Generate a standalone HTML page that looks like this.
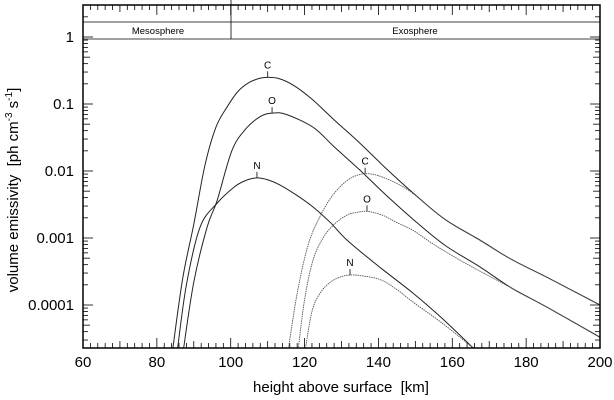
<!DOCTYPE html>
<html><head><meta charset="utf-8"><style>
html,body{margin:0;padding:0;background:#fff;}
svg{display:block;font-family:"Liberation Sans",sans-serif;}
</style></head><body>
<svg id="chart" width="614" height="400" viewBox="0 0 614 400">
<defs><clipPath id="clip"><rect x="83" y="5" width="517" height="343"/></clipPath></defs>
<g id="grid"></g>
<g id="curves" clip-path="url(#clip)"></g>
<g id="labels"></g>
<line x1="83" y1="22" x2="600" y2="22" stroke="#000" stroke-width="0.8"/>
<line x1="83" y1="39" x2="600" y2="39" stroke="#000" stroke-width="0.8"/>
<line x1="231" y1="0" x2="231" y2="39" stroke="#000" stroke-width="0.8"/>
<text x="158" y="34" font-size="9.5" text-anchor="middle">Mesosphere</text>
<text x="415" y="34" font-size="9.5" text-anchor="middle">Exosphere</text>
<rect x="83" y="5" width="517" height="343" fill="none" stroke="#000" stroke-width="1.5"/>
<text x="341" y="392" font-size="15" text-anchor="middle">height above surface&#160; [km]</text>
<text transform="translate(18,190) rotate(-90)" font-size="15" text-anchor="middle">volume emissivity&#160; [ph cm<tspan dy="-6" font-size="10">-3</tspan><tspan dy="6"> s</tspan><tspan dy="-6" font-size="10">-1</tspan><tspan dy="6">]</tspan></text>
</svg>
<script>
const xTicks=[60,80,100,120,140,160,180,200];
const yTicks=[1,0.1,0.01,0.001,0.0001];
const yTickLabels=["1","0.1","0.01","0.001","0.0001"];
const seriesNames=["C","O","N","C","O","N"];
const seriesDotted=[false,false,false,true,true,true];
const cKm=[84.2,87,90,93,96,99,102,105,108,110,113,117,122,128,135,142,149.4,158,167.5,176,185.6,200];
const cVal=[2e-5,2.5e-4,1.6e-3,0.012,0.045,0.09,0.155,0.21,0.243,0.25,0.24,0.19,0.118,0.058,0.026,0.011,0.0047,0.0019,0.00093,0.00048,0.00026,1.0e-4];
const oKm=[87.1,90,93.6,96.3,100.3,104,108,111.2,115,122.3,128,135,142,149.4,158,167.5,176,185.6,200];
const oVal=[2e-5,2.2e-4,1.45e-3,0.0036,0.02,0.042,0.065,0.073,0.07,0.045,0.023,0.0103,0.0044,0.0019,0.00078,0.00037,0.00018,9.3e-5,3.3e-5];
const nKm=[85.5,88,91.7,96.3,101,104,107.1,110,113.3,118,122.3,127,131.5,140,149.4,157,165.6];
const nVal=[2e-5,2e-4,1.45e-3,0.0033,0.0058,0.0072,0.0079,0.0074,0.0062,0.0043,0.0029,0.0017,0.00093,0.00038,0.00015,6.5e-5,2.3e-5];
const cdKm=[115.5,118,121,124.2,127,130,133,136.4,140,145,149.4,158,167.5,176,185.6,200];
const cdVal=[2e-5,1.5e-4,8e-4,0.0021,0.0039,0.0061,0.0081,0.0091,0.0085,0.0065,0.0046,0.0019,0.00092,0.00048,0.00026,1.0e-4];
const odKm=[118.2,120,122.3,125,128,131.5,134,136.9,141,145,149.4,155,162.9,170,185.6,200];
const odVal=[2e-5,1.2e-4,4.7e-4,0.001,0.0016,0.0022,0.0024,0.0025,0.0022,0.0017,0.0013,8e-4,4.4e-4,2.7e-4,9.3e-5,3.3e-5];
const ndKm=[120.1,122,124.2,127,130,132.3,135,140.4,145,149.4,157,165.6];
const ndVal=[2e-5,8e-5,1.5e-4,2.2e-4,2.65e-4,2.8e-4,2.75e-4,2.4e-4,1.7e-4,1.1e-4,5.5e-5,2.3e-5];
const seriesKm=[cKm,oKm,nKm,cdKm,odKm,ndKm];
const seriesVal=[cVal,oVal,nVal,cdVal,odVal,ndVal];

const NS="http://www.w3.org/2000/svg";
const X0=83,X1=600,Y0=5,Y1=348;
function sx(km){return X0+(km-60)/(200-60)*(X1-X0);}
function sy(v){return 37-Math.log10(v)*67;}
function mk(tag,attrs,parent){const e=document.createElementNS(NS,tag);for(const k in attrs)e.setAttribute(k,attrs[k]);parent.appendChild(e);return e;}
const grid=document.getElementById('grid');
for(let k=60;k<=200;k+=2){
  const major=(k%20===0);const len=major?10:(k%10===0?7:5);
  const x=sx(k);
  const t1=mk('line',{x1:x,y1:Y1,x2:x,y2:Y1-len,stroke:'#000','stroke-width':0.8},grid);
  
  
  const t2=mk('line',{x1:x,y1:Y0,x2:x,y2:Y0+len,stroke:'#000','stroke-width':0.8},grid);
  
  
}
xTicks.forEach(k=>{
  const t=mk('text',{x:sx(k),y:367,'font-size':15,'text-anchor':'middle'},grid);
  t.textContent=String(k);
  
  
});
for(let d=-5;d<=0;d++){
  for(let m=1;m<=9;m++){
    const v=m*Math.pow(10,d);const y=sy(v);
    if(y<Y0||y>Y1)continue;
    const len=m===1?10:(m===5?7:5);
    const a=mk('line',{x1:X0,y1:y,x2:X0+len,y2:y,stroke:'#000','stroke-width':0.8},grid);
    
    
    const b=mk('line',{x1:X1,y1:y,x2:X1-len,y2:y,stroke:'#000','stroke-width':0.8},grid);
    
    
  }
}
yTicks.forEach((v,i)=>{
  const t=mk('text',{x:74,y:sy(v)+5,'font-size':15,'text-anchor':'end'},grid);
  t.textContent=yTickLabels[i];
  
  
});
function pathFor(km,val){
  const p=km.map((k,i)=>[sx(k),sy(val[i])]);
  const s=[p[0][0]-(p[1][0]-p[0][0])*0.3,p[0][1]-(p[1][1]-p[0][1])*0.3];
  let d='M'+s[0].toFixed(2)+','+s[1].toFixed(2)+' L'+p[0][0].toFixed(2)+','+p[0][1].toFixed(2);
  for(let i=0;i<p.length-1;i++){
    const a=p[Math.max(0,i-1)],b=p[i],c=p[i+1],e=p[Math.min(p.length-1,i+2)];
    const c1=[b[0]+(c[0]-a[0])/6,b[1]+(c[1]-a[1])/6];
    const c2=[c[0]-(e[0]-b[0])/6,c[1]-(e[1]-b[1])/6];
    d+=' C'+c1[0].toFixed(2)+','+c1[1].toFixed(2)+' '+c2[0].toFixed(2)+','+c2[1].toFixed(2)+' '+c[0].toFixed(2)+','+c[1].toFixed(2);
  }
  return d;
}
const curves=document.getElementById('curves');
const labels=document.getElementById('labels');
seriesKm.forEach((km,i)=>{
  const val=seriesVal[i];
  const p=mk('path',{d:pathFor(km,val),fill:'none',stroke:seriesDotted[i]?'#555':'#222','stroke-width':seriesDotted[i]?0.9:1,'stroke-dasharray':seriesDotted[i]?'1.5,0.8':'none'},curves);
  
  
  let mi=0;val.forEach((v,j)=>{if(v>val[mi])mi=j;});
  const px=sx(km[mi]),py=sy(val[mi]);
  const tk=mk('line',{x1:px,y1:py,x2:px,y2:py-6,stroke:'#333','stroke-width':1},labels);
  
  
  const t=mk('text',{x:px,y:py-9,'font-size':10,'text-anchor':'middle'},labels);
  t.textContent=seriesNames[i];
  
  
});
</script>
</body></html>
